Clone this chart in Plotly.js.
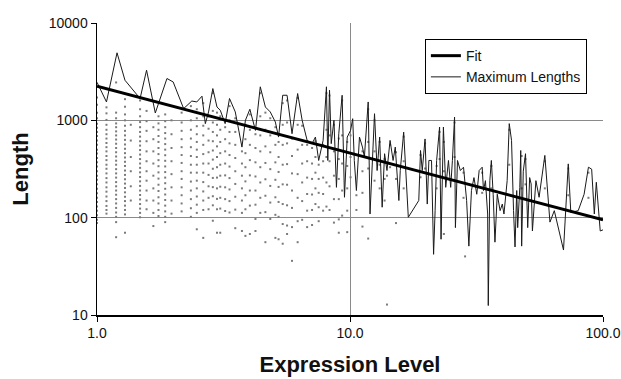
<!DOCTYPE html>
<html>
<head>
<meta charset="utf-8">
<script src="https://cdn.plot.ly/plotly-3.0.1.min.js"></script>
<style>html,body{margin:0;padding:0;background:#fff;}#chart{width:621px;height:379px;}</style>
</head>
<body>
<div id="chart"></div>
<script>
// Maximum length per expression level (line)
const maxX = [1.0,1.09,1.2,1.29,1.48,1.57,1.70,1.89,2.0,2.2,2.37,2.48,2.6,2.68,2.76,2.87,2.98,3.07,3.21,3.34,3.52,3.74,3.86,4.02,4.23,4.42,4.63,4.84,5.07,5.22,5.42,5.64,5.90,6.21,6.47,6.77,7.08,7.30,7.52,7.83,8.07,8.17,8.30,8.43,8.64,8.84,9.03,9.31,9.51,9.75,10.05,10.25,10.4,10.6,10.9,11.2,11.4,11.8,12.0,12.3,12.5,12.8,13.1,13.4,13.7,14.0,14.4,14.8,15.1,15.6,15.8,16.3,17.0,18.7,19.0,19.3,19.8,20.2,20.5,21.0,21.4,21.7,22.0,22.6,22.9,23.4,23.9,24.5,25.0,25.4,25.9,26.1,26.6,27.3,28.1,28.9,29.5,30.2,30.9,31.7,32.4,33.3,33.7,34.3,35.0,35.2,35.7,36.2,36.8,37.4,38.2,39.2,40.0,40.6,41.4,41.8,42.6,43.5,44.3,44.9,45.6,46.0,46.9,47.3,47.7,48.4,49.4,50.4,51.3,52.0,52.6,54.3,55.9,58.9,61.7,64.2,69.8,72.9,74.6,79.8,84.2,87.6,90.2,92.4,94.1,97.5,100];
const maxY = [2460,1545,4940,2580,1675,3275,1190,2690,2480,1320,1580,1545,1770,925,1220,2120,1370,1270,925,1675,1220,531,1000,1300,788,2210,1370,1220,960,673,1810,1810,729,1885,1000,622,576,673,387,622,2210,387,2040,576,1000,205,729,1810,162,673,788,1040,387,190,673,531,420,1545,109,387,1170,305,673,128,454,305,622,387,531,150,305,757,101,150,490,305,644,138,387,387,42,118,387,853,60,853,205,387,205,387,1080,79,387,305,330,150,51,190,258,174,305,330,190,240,109,12.5,240,387,174,56,174,118,138,109,174,240,925,622,118,50,190,79,205,490,51,300,454,79,258,222,73,240,162,436,90,118,46.5,357,113,118,174,330,315,109,231,73,75];

// Fit line end points
const fitX = [1, 100];
const fitY = [2240, 95];

// Individual lengths, grouped by expression level (columns of dots)
const dotColX = [1.0,1.09,1.19,1.29,1.36,1.48,1.57,1.67,1.75,1.86,1.97,2.16,2.35,2.48,2.63,2.76,2.87,2.98,3.07,3.21,3.34,3.52,3.74,3.86,4.02,4.23,4.42,4.63,4.84,5.07,5.22,5.42,5.64,5.9,6.21,6.47,6.77,7.08,7.3,7.52,7.83,8.07,8.3,8.64,9.03,9.31,9.75,10.05,10.6,11.2,11.8,12.5,13.1,13.7,14.0,14.4,15.2,16.3,19.0,19.8,22.0,22.6,23.5,25.9,28.1,28.5,33.3,36.2,42.6,47.7,49.4,58.9,72.9,87.6];
const dotColY = [
 [1720,1450,1200,1050,920,840,760,690,620,560,500,455,410,370,335,300,270,245,220,198,178,160,145,130,118,106,95,88],
 [1360,1180,1010,900,800,720,650,585,530,480,430,390,350,318,285,255,230,205,185,165,148,132,120,110],
 [2450,1200,1050,930,850,770,700,635,575,520,470,425,385,350,315,285,258,232,210,190,172,155,140,126,113,102,90,63],
 [1650,1380,1150,1000,880,780,700,630,565,510,460,415,375,340,305,275,248,224,202,182,164,148,133,120,108,70],
 [900,620,420,300,210,150],
 [1600,1300,1100,960,850,760,680,610,550,495,445,400,360,325,292,262,236,212,190,171,154,138,124,112,101],
 [1250,980,780,610,480,380,300,240,190,150,122],
 [850,640,480,360,270,200,150,112,82],
 [1100,930,800,690,600,520,450,390,338,292,252,218,188,162,140,120,104],
 [1150,980,850,740,650,570,500,438,384,336,294,258,226,198,173,152,133,116,102,90],
 [1000,720,520,380,280,205,150,110],
 [1200,950,780,640,530,440,365,300,250,205,170,140,116],
 [1400,1000,800,650,530,430,350,290,235,190,155,125,102],
 [1300,1050,870,720,600,500,420,350,290,240,200,165,136,112,76],
 [1500,1100,880,700,560,450,360,290,232,186,150,120,62],
 [1100,820,620,470,360,275,210,160,122],
 [1900,1250,950,760,610,490,395,318,256,206,166,134,93],
 [1200,900,700,540,420,330,258,200,156,122,70],
 [1100,800,600,460,350,270,208,160,124,70],
 [850,640,480,360,272,205,155,117],
 [1400,1000,760,580,440,335,255,195,148,113],
 [1050,760,560,410,300,222,164,121,78],
 [480,360,270,200,150,112,73],
 [900,640,460,330,236,170,122,65],
 [1150,800,560,390,272,190,133,68],
 [720,520,370,265,190,136,97,73],
 [1900,1100,700,480,330,230,160,112],
 [1200,800,540,365,248,168,114,56],
 [1050,700,470,315,212,143,97],
 [850,560,370,245,162,107,62],
 [600,420,295,207,145,102,60],
 [1500,900,560,350,220,138,86,54],
 [1600,950,580,355,218,134,83,68],
 [650,430,285,190,126,80,36],
 [1700,900,500,280,160,92,56],
 [880,560,360,230,148,95],
 [560,380,258,175,118,80],
 [520,360,250,173,120,84],
 [610,420,290,200,138],
 [350,250,180,128,92],
 [560,380,258,175,118],
 [1900,800,420,230,130],
 [1800,700,380,210,120],
 [900,480,270,155,89],
 [650,400,250,155,96,70],
 [1600,700,360,190,105],
 [600,340,200,118,71],
 [700,420,260],
 [170,120],
 [480,300,180,81],
 [1300,600,320,61],
 [1000,480,240],
 [600,350,200],
 [400,250,150],
 [270,12.8],
 [560,330],
 [470,250,88],
 [680,380,200],
 [440,260],
 [580,320],
 [340,200],
 [760,400],
 [600,300,68],
 [950,420],
 [290,160],
 [40],
 [290,180],
 [340,200],
 [800,350],
 [430,200],
 [400,220],
 [380,200],
 [320,170],
 [290,160]
];

const xTickVals = [1, 10, 100];
const xTickText = ['1.0', '10.0', '100.0'];
const yTickVals = [10, 100, 1000, 10000];
const yTickText = ['10', '100', '1000', '10000'];

const dotX = [], dotY = [];
dotColX.forEach((x, i) => dotColY[i].forEach(y => { dotX.push(x); dotY.push(y); }));

const FONT = 'Liberation Sans, Arial, Helvetica, sans-serif';

const traces = [
  {x: dotX, y: dotY, type: 'scatter', mode: 'markers', showlegend: false, hoverinfo: 'skip',
   marker: {size: 2, color: '#7a7a7a', symbol: 'square', line: {width: 0}}},
  {x: maxX, y: maxY, type: 'scatter', mode: 'lines', name: 'Maximum Lengths', legendrank: 2,
   line: {color: '#1a1a1a', width: 1}},
  {x: fitX, y: fitY, type: 'scatter', mode: 'lines', name: 'Fit', legendrank: 1,
   line: {color: '#000', width: 3}}
];

const axisCommon = {
  type: 'log', showgrid: true, gridcolor: '#8a8a8a', gridwidth: 1,
  showline: true, linecolor: '#000', linewidth: 1.5, mirror: false,
  ticks: 'outside', ticklen: 5, tickcolor: '#000', tickwidth: 1,
  zeroline: false, tickfont: {family: FONT, size: 14, color: '#111'}
};

const layout = {
  width: 621, height: 379,
  margin: {l: 97, r: 18, t: 23, b: 64},
  paper_bgcolor: '#fff', plot_bgcolor: '#fff',
  font: {family: FONT, color: '#111'},
  xaxis: Object.assign({}, axisCommon, {
    range: [0, 2], tickmode: 'array', tickvals: xTickVals, ticktext: xTickText,
    title: {text: '<b>Expression Level</b>', font: {family: FONT, size: 22, color: '#111'}, standoff: 16}
  }),
  yaxis: Object.assign({}, axisCommon, {
    range: [1, 4], tickmode: 'array', tickvals: yTickVals, ticktext: yTickText,
    title: {text: '<b>Length</b>', font: {family: FONT, size: 22, color: '#111'}, standoff: 14}
  }),
  legend: {
    x: 0.648, y: 0.945, xanchor: 'left', yanchor: 'top',
    bgcolor: '#fff', bordercolor: '#000', borderwidth: 1,
    font: {family: FONT, size: 14, color: '#111'}, itemwidth: 30, tracegroupgap: 0
  },
  showlegend: true
};

Plotly.newPlot('chart', traces, layout, {staticPlot: true, displayModeBar: false});
</script>
</body>
</html>
